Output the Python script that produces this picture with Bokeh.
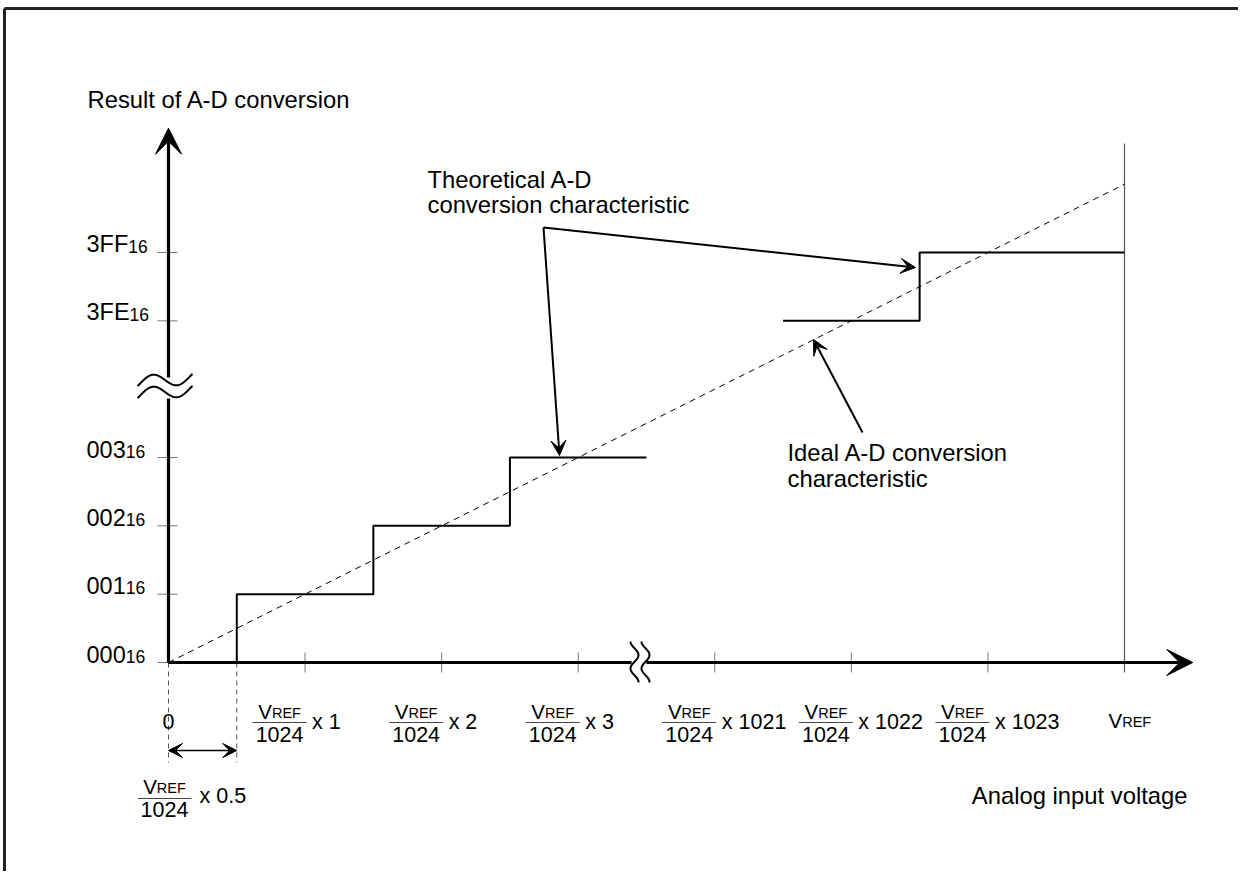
import numpy as np
from bokeh.plotting import figure
from bokeh.models import Arrow, VeeHead, Range1d
from bokeh.core.properties import value
from bokeh.embed import file_html
from bokeh.resources import INLINE

# ---------------- data (units of VREF/1024 and output code) ----------------
x_tick_steps = [1, 2, 3, 1021, 1022, 1023]
x_tick_labels = ["x 1", "x 2", "x 3", "x 1021", "x 1022", "x 1023"]
y_tick_codes = [0, 1, 2, 3, 1022, 1023]
y_tick_labels = ["000", "001", "002", "003", "3FE", "3FF"]
y_tick_sub = "16"
theo_low_x = [0.5, 0.5, 1.5, 1.5, 2.5, 2.5, 3.5]
theo_low_y = [0, 1, 1, 2, 2, 3, 3]
theo_high_x = [1021.5, 1022.5, 1022.5, 1024]
theo_high_y = [1022, 1022, 1023, 1023]
ideal_x = [0, 1024]
ideal_y = [0, 1024]
vref_step = 1024
half_lsb = 0.5
BREAK_SHIFT = 1017  # range cut out of both axes by the break marks


def c(v):
    return v - BREAK_SHIFT if v >= 512 else v


# ---------------- layout ----------------
W, H = 1238, 871
ORX, ORY = 168.0, 662.0        # position of the origin in the picture
PXU, PYU = 136.57, 68.33       # pixels per unit
FONT = value("Liberation Sans")
BL = 0.36                      # baseline correction (fraction of font size)
TXT = 23.8                     # annotation font size
TCK = 23.5                     # y tick label size

x0 = -ORX / PXU
x1 = x0 + W / PXU
y1 = ORY / PYU
y0 = y1 - H / PYU


def ux(X):
    return (X - ORX) / PXU


def vy(Y):
    return (ORY - Y) / PYU


p = figure(width=W, height=H, output_backend="svg", toolbar_location=None,
           x_range=Range1d(x0, x1), y_range=Range1d(y0, y1),
           x_axis_type=None, y_axis_type=None, min_border=0,
           background_fill_color="white", border_fill_color="white")
p.outline_line_color = None
p.grid.visible = False

AW = {'0': .556, '1': .556, '2': .556, '3': .556, '4': .556, '5': .556, '6': .556,
      '7': .556, '8': .556, '9': .556, 'F': .611, 'E': .667, 'V': .667, 'R': .722,
      'x': .5, ' ': .278, '.': .278}


def tw(s, size):
    return sum(AW[ch] for ch in s) * size


texts = {}


def add_text(X, Y, s, size, align="left"):
    d = texts.setdefault((size, align), dict(x=[], y=[], text=[]))
    d["x"].append(ux(X))
    d["y"].append(vy(Y - BL * size))
    d["text"].append(s)


thin = dict(x0=[], y0=[], x1=[], y1=[])        # fraction bars
ticks = dict(x0=[], y0=[], x1=[], y1=[])
frame = dict(x0=[], y0=[], x1=[], y1=[])


def seg(d, Xa, Ya, Xb, Yb):
    d["x0"].append(ux(Xa)); d["y0"].append(vy(Ya))
    d["x1"].append(ux(Xb)); d["y1"].append(vy(Yb))


FR_V, FR_REF, FR_NUM, LBL = 20.5, 14.5, 21.5, 21.5


def vref_fraction(cx, bar_y, v_base, num_base, bar_w=54):
    wV, wR = tw("V", FR_V), tw("REF", FR_REF)
    lx = cx - (wV + wR) / 2
    add_text(lx, v_base, "V", FR_V)
    add_text(lx + wV, v_base, "REF", FR_REF)
    add_text(cx, num_base, "1024", FR_NUM, "center")
    seg(thin, cx - bar_w / 2, bar_y, cx + bar_w / 2, bar_y)


# x tick labels and ticks
for t, lab in zip(x_tick_steps, x_tick_labels):
    T = ORX + c(t) * PXU
    vref_fraction(T - 25.5, 722, 718, 742)
    add_text(T + 7, 729, lab, LBL)
    seg(ticks, T, 652, T, 672)
add_text(ORX, 729, "0", LBL, "center")
TV = ORX + c(vref_step) * PXU
add_text(TV - 16, 727, "V", FR_V)
add_text(TV - 16 + tw("V", FR_V), 727, "REF", FR_REF)

# half-LSB label
vref_fraction(164, 798, 793, 817)
add_text(199, 803, "x 0.5", LBL)

# y tick labels and ticks
for code, lab in zip(y_tick_codes, y_tick_labels):
    Y = ORY - c(code) * PYU
    add_text(86, Y, lab, TCK)
    add_text(86 + tw(lab, TCK), Y, y_tick_sub, 17.5)
    seg(ticks, 157, Y, 177 if code else 168, Y)

# annotation texts
add_text(87, 108, "Result of A-D conversion", TXT)
add_text(427, 188, "Theoretical A-D", TXT)
add_text(427, 213, "conversion characteristic", TXT)
add_text(787, 461, "Ideal A-D conversion", TXT)
add_text(787, 487, "characteristic", TXT)
add_text(1187, 804, "Analog input voltage", TXT, "right")

# frame (left and top edges)
seg(frame, 4, 8, 4, H)
seg(frame, 4, 8, W, 8)

# ---------------- drawing ----------------
p.segment(x0=frame["x0"], y0=frame["y0"], x1=frame["x1"], y1=frame["y1"],
          line_color="#222222", line_width=3)
# VREF vertical line
p.segment(x0=[c(vref_step)], y0=[vy(143)], x1=[c(vref_step)], y1=[vy(672)],
          line_color="#555555", line_width=1.2)
p.segment(x0=ticks["x0"], y0=ticks["y0"], x1=ticks["x1"], y1=ticks["y1"],
          line_color="#777777", line_width=1)
p.segment(x0=thin["x0"], y0=thin["y0"], x1=thin["x1"], y1=thin["y1"],
          line_color="#444444", line_width=1)

# dashed guides at 0 and 0.5 LSB
p.segment(x0=[0, half_lsb], y0=[0, 0], x1=[0, half_lsb], y1=[vy(762)] * 2,
          line_color="#555555", line_width=1, line_dash="5 4")
p.add_layout(Arrow(x_start=0, y_start=vy(750), x_end=half_lsb, y_end=vy(750),
                   line_width=1.3, line_color="black",
                   start=VeeHead(size=14, fill_color="black", line_color="black"),
                   end=VeeHead(size=14, fill_color="black", line_color="black")))

# ideal characteristic
p.line([c(v) for v in ideal_x], [c(v) for v in ideal_y], line_color="black",
       line_width=1, line_dash="6 5")

# theoretical characteristic
p.line(theo_low_x, theo_low_y, line_color="black", line_width=2)
p.line([c(v) for v in theo_high_x], [c(v) for v in theo_high_y],
       line_color="black", line_width=2)

# axes
X_END, Y_END = 7.5, 7.82
xg0, xg1 = ux(631), ux(646)
yg0, yg1 = vy(398), vy(377)
p.segment(x0=[0, 0], y0=[0, 0], x1=[xg0, 0], y1=[0, yg0], line_color="black",
          line_width=3.2)
for xs, ys, xe, ye in [(xg1, 0, X_END, 0), (0, yg1, 0, Y_END)]:
    p.add_layout(Arrow(x_start=xs, y_start=ys, x_end=xe, y_end=ye,
                       line_width=3.2, line_color="black",
                       end=VeeHead(size=26, fill_color="black", line_color="black")))

# break marks
tt = np.linspace(0, 1, 60)
bx = 137 + 55 * tt
wave = -7 * np.cos(2 * np.pi * (bx - 127) / 50) + 8 * (tt - 0.5)
ys_break = [[vy(379.5 - w) for w in wave], [vy(391.5 - w) for w in wave]]
p.multi_line([[ux(X) for X in bx]] * 2, ys_break, line_color="black", line_width=2)
byy = 641 + 41 * tt
wv = -4 * np.cos(2 * np.pi * (byy - 641) / 27)
p.multi_line([[ux(634 + w) for w in wv], [ux(645 + w) for w in wv]],
             [[vy(Y) for Y in byy]] * 2, line_color="black", line_width=2)

# annotation arrows
ann = [((543, 227), (559, 455)), ((543, 227), (915, 267)), ((862, 432), (813, 339))]
for (sx, sy), (ex, ey) in ann:
    p.add_layout(Arrow(x_start=ux(sx), y_start=vy(sy), x_end=ux(ex), y_end=vy(ey),
                       line_width=2, line_color="black",
                       end=VeeHead(size=15, fill_color="black", line_color="black")))

for (size, align), d in texts.items():
    p.text(x=d["x"], y=d["y"], text=d["text"], text_font=FONT,
           text_font_size=value(f"{size}px"), text_align=align,
           text_baseline="alphabetic", text_color="black")

open("out.html", "w").write(file_html(p, INLINE))
